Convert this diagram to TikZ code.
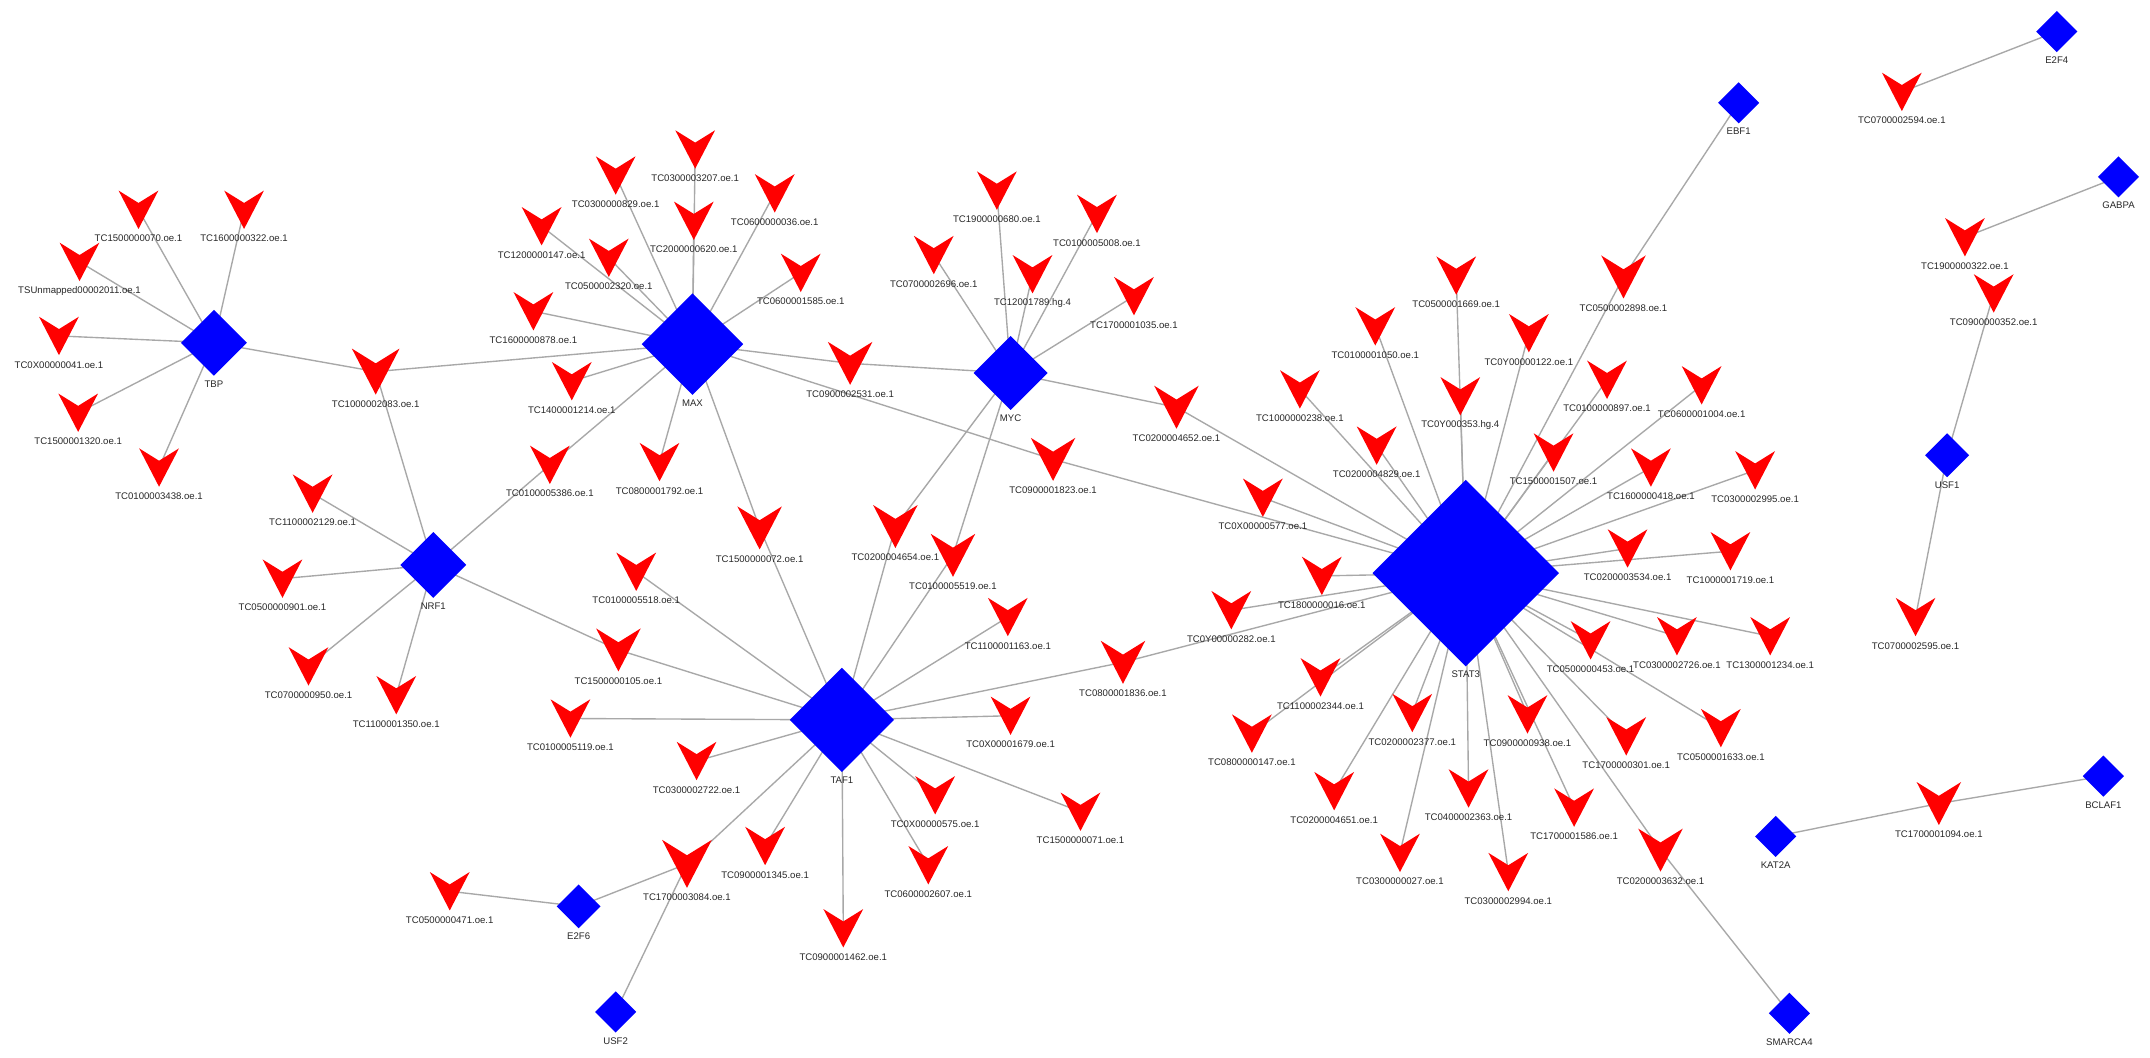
\documentclass[tikz,border=0pt]{standalone}
\usepackage{fontspec}
\setmainfont{Liberation Sans}
\pgfdeclarelayer{back}
\pgfdeclarelayer{bg}
\pgfsetlayers{back,bg,main}
\definecolor{vred}{RGB}{255,0,0}
\definecolor{tfblue}{RGB}{0,0,255}
\definecolor{edgec}{RGB}{168,168,168}
\definecolor{txt}{RGB}{40,40,40}
\tikzset{lbl/.style={font=\fontsize{7}{8}\selectfont, text=txt, inner sep=0pt},
  edge/.style={draw=edgec, line width=1pt}}
\newcommand\tg[5][1]{%
  \coordinate (#2) at (#3,#4);
  \fill[vred, shift={(#3,#4)}, scale=#1] (-14.5,-14) -- (0,-5) -- (14.5,-14) -- (0,14) -- cycle;
  \node[lbl] (#2-l) at (#3,{#4+7+14*#1}) {#5};}
\newcommand\tf[5]{%
  \coordinate (#1) at (#2,#3);
  \fill[tfblue, shift={(#2,#3)}] (0,-#4) -- (#4,0) -- (0,#4) -- (-#4,0) -- cycle;
  \node[lbl] (#1-l) at (#2,{#3+#4+6}) {#5};}
\begin{document}
\begin{tikzpicture}[x=1pt,y=-1pt]
\useasboundingbox (0,0) rectangle (1568,771);
\begin{pgfonlayer}{back}
\fill[white] (0,0) rectangle (1568,771);
\end{pgfonlayer}
% TBP cluster
\tg{t1500000070}{101}{153}{TC1500000070.oe.1}
\tg{t1600000322}{178}{153}{TC1600000322.oe.1}
\tg{tSU}{58}{191}{TSUnmapped00002011.oe.1}
\tg{t0X00000041}{43}{245}{TC0X00000041.oe.1}
\tg{t1500001320}{57}{301}{TC1500001320.oe.1}
\tg{t0100003438}{116}{341}{TC0100003438.oe.1}
\tf{TBP}{156}{250}{24}{TBP}
\tg[1.2]{t1000002083}{274}{271}{TC1000002083.oe.1}
% MAX cluster
\tg{t0300003207}{507}{109}{TC0300003207.oe.1}
\tg{t0300000829}{449}{128}{TC0300000829.oe.1}
\tg{t0600000036}{565}{141}{TC0600000036.oe.1}
\tg{t1200000147}{395}{165}{TC1200000147.oe.1}
\tg{t2000000620}{506}{161}{TC2000000620.oe.1}
\tg{t0500002320}{444}{188}{TC0500002320.oe.1}
\tg{t0600001585}{584}{199}{TC0600001585.oe.1}
\tg{t1600000878}{389}{227}{TC1600000878.oe.1}
\tf{MAX}{505}{251}{37}{MAX}
\tg{t1400001214}{417}{278}{TC1400001214.oe.1}
\tg[1.12]{t0900002531}{620}{265}{TC0900002531.oe.1}
\tg{t0100005386}{401}{339}{TC0100005386.oe.1}
\tg{t0800001792}{481}{337}{TC0800001792.oe.1}
\tg[1.12]{t1500000072}{554}{385}{TC1500000072.oe.1}
% MYC cluster
\tg{t1900000680}{727}{139}{TC1900000680.oe.1}
\tg{t0100005008}{800}{156}{TC0100005008.oe.1}
\tg{t0700002696}{681}{186}{TC0700002696.oe.1}
\tg{t12001789}{753}{200}{TC12001789.hg.4}
\tg{t1700001035}{827}{216}{TC1700001035.oe.1}
\tf{MYC}{737}{272}{27}{MYC}
\tg[1.12]{t0200004652}{858}{297}{TC0200004652.oe.1}
\tg[1.12]{t0900001823}{768}{335}{TC0900001823.oe.1}
% NRF1 cluster
\tg{t1100002129}{228}{360}{TC1100002129.oe.1}
\tf{NRF1}{316}{412}{24}{NRF1}
\tg{t0500000901}{206}{422}{TC0500000901.oe.1}
\tg{t0700000950}{225}{486}{TC0700000950.oe.1}
\tg{t1100001350}{289}{507}{TC1100001350.oe.1}
\tg[1.12]{t1500000105}{451}{474}{TC1500000105.oe.1}
% TAF1 cluster
\tg[1.12]{t0200004654}{653}{384}{TC0200004654.oe.1}
\tg[1.12]{t0100005519}{695}{405}{TC0100005519.oe.1}
\tg{t0100005518}{464}{417}{TC0100005518.oe.1}
\tg{t1100001163}{735}{450}{TC1100001163.oe.1}
\tg[1.12]{t0800001836}{819}{483}{TC0800001836.oe.1}
\tg{t0100005119}{416}{524}{TC0100005119.oe.1}
\tf{TAF1}{614}{525}{38}{TAF1}
\tg{t0X00001679}{737}{522}{TC0X00001679.oe.1}
\tg{t0300002722}{508}{555}{TC0300002722.oe.1}
\tg{t0X00000575}{682}{580}{TC0X00000575.oe.1}
\tg{t1500000071}{788}{592}{TC1500000071.oe.1}
\tg{t0900001345}{558}{617}{TC0900001345.oe.1}
\tg{t0600002607}{677}{631}{TC0600002607.oe.1}
\tg[1.25]{t1700003084}{501}{630}{TC1700003084.oe.1}
\tg{t0900001462}{615}{677}{TC0900001462.oe.1}
\tg{t0500000471}{328}{650}{TC0500000471.oe.1}
\tf{E2F6}{422}{661}{16}{E2F6}
\tf{USF2}{449}{738}{15}{USF2}
% STAT3 cluster
\tg{t0500001669}{1062}{201}{TC0500001669.oe.1}
\tg[1.12]{t0500002898}{1184}{202}{TC0500002898.oe.1}
\tg{t0100001050}{1003}{238}{TC0100001050.oe.1}
\tg{t0Y00000122}{1115}{243}{TC0Y00000122.oe.1}
\tg{t1000000238}{948}{284}{TC1000000238.oe.1}
\tg{t0Y000353}{1065}{289}{TC0Y000353.hg.4}
\tg{t0100000897}{1172}{277}{TC0100000897.oe.1}
\tg{t0600001004}{1241}{281}{TC0600001004.oe.1}
\tg{t0200004829}{1004}{325}{TC0200004829.oe.1}
\tg{t1500001507}{1133}{330}{TC1500001507.oe.1}
\tg{t1600000418}{1204}{341}{TC1600000418.oe.1}
\tg{t0300002995}{1280}{343}{TC0300002995.oe.1}
\tg{t0X00000577}{921}{363}{TC0X00000577.oe.1}
\tf{STAT3}{1069}{418}{68}{STAT3}
\tg{t1800000016}{964}{420}{TC1800000016.oe.1}
\tg{t0200003534}{1187}{400}{TC0200003534.oe.1}
\tg{t1000001719}{1262}{402}{TC1000001719.oe.1}
\tg{t0Y00000282}{898}{445}{TC0Y00000282.oe.1}
\tg{t0500000453}{1160}{467}{TC0500000453.oe.1}
\tg{t0300002726}{1223}{464}{TC0300002726.oe.1}
\tg{t1300001234}{1291}{464}{TC1300001234.oe.1}
\tg{t1100002344}{963}{494}{TC1100002344.oe.1}
\tg{t0800000147}{913}{535}{TC0800000147.oe.1}
\tg{t0200002377}{1030}{520}{TC0200002377.oe.1}
\tg{t0900000938}{1114}{521}{TC0900000938.oe.1}
\tg{t1700000301}{1186}{537}{TC1700000301.oe.1}
\tg{t0500001633}{1255}{531}{TC0500001633.oe.1}
\tg{t0200004651}{973}{577}{TC0200004651.oe.1}
\tg{t0400002363}{1071}{575}{TC0400002363.oe.1}
\tg{t1700001586}{1148}{589}{TC1700001586.oe.1}
\tg{t0300000027}{1021}{622}{TC0300000027.oe.1}
\tg{t0300002994}{1100}{636}{TC0300002994.oe.1}
\tg[1.12]{t0200003632}{1211}{620}{TC0200003632.oe.1}
\tf{SMARCA4}{1305}{739}{15}{SMARCA4}
% right side
\tf{E2F4}{1500}{23}{15}{E2F4}
\tg{t0700002594}{1387}{67}{TC0700002594.oe.1}
\tf{EBF1}{1268}{75}{15}{EBF1}
\tf{GABPA}{1545}{129}{15}{GABPA}
\tg{t1900000322}{1433}{173}{TC1900000322.oe.1}
\tg{t0900000352}{1454}{214}{TC0900000352.oe.1}
\tf{USF1}{1420}{332}{16}{USF1}
\tg{t0700002595}{1397}{450}{TC0700002595.oe.1}
\tf{KAT2A}{1295}{610}{15}{KAT2A}
\tg[1.12]{t1700001094}{1414}{586}{TC1700001094.oe.1}
\tf{BCLAF1}{1534}{566}{15}{BCLAF1}
% edges
\begin{pgfonlayer}{bg}
\foreach \b in {t1500000070,t1600000322,tSU,t0X00000041,t1500001320,t0100003438,t1000002083}
  \draw[edge] (TBP) -- (\b);
\foreach \b in {t1000002083,t0300003207,t0300000829,t0600000036,t1200000147,t2000000620,t0500002320,t0600001585,t1600000878,t1400001214,t0900002531,t0100005386,t0800001792,t1500000072,t0900001823}
  \draw[edge] (MAX) -- (\b);
\foreach \b in {t1000002083,t0100005386,t1100002129,t0500000901,t0700000950,t1100001350,t1500000105}
  \draw[edge] (NRF1) -- (\b);
\foreach \b in {t1900000680,t0100005008,t0700002696,t12001789,t1700001035,t0900002531,t0200004652,t0200004654,t0100005519}
  \draw[edge] (MYC) -- (\b);
\foreach \b in {t1500000072,t0200004654,t0100005519,t0100005518,t1100001163,t0800001836,t0100005119,t0X00001679,t0300002722,t0X00000575,t1500000071,t0900001345,t0600002607,t1700003084,t0900001462,t1500000105}
  \draw[edge] (TAF1) -- (\b);
\foreach \b in {t0500000471,t1700003084}
  \draw[edge] (E2F6) -- (\b);
\draw[edge] (USF2) -- (t1700003084);
\foreach \b in {t0500001669,t0500002898,t0100001050,t0Y00000122,t1000000238,t0Y000353,t0100000897,t0600001004,t0200004829,t1500001507,t1600000418,t0300002995,t0X00000577,t1800000016,t0200003534,t1000001719,t0Y00000282,t0500000453,t0300002726,t1300001234,t1100002344,t0800000147,t0200002377,t0900000938,t1700000301,t0500001633,t0200004651,t0400002363,t1700001586,t0300000027,t0300002994,t0200003632,t0900001823,t0200004652,t0800001836}
  \draw[edge] (STAT3) -- (\b);
\draw[edge] (EBF1) -- (t0500002898);
\draw[edge] (SMARCA4) -- (t0200003632);
\draw[edge] (E2F4) -- (t0700002594);
\draw[edge] (GABPA) -- (t1900000322);
\draw[edge] (USF1) -- (t0900000352);
\draw[edge] (USF1) -- (t0700002595);
\draw[edge] (KAT2A) -- (t1700001094) -- (BCLAF1);
\end{pgfonlayer}
\end{tikzpicture}
\end{document}
